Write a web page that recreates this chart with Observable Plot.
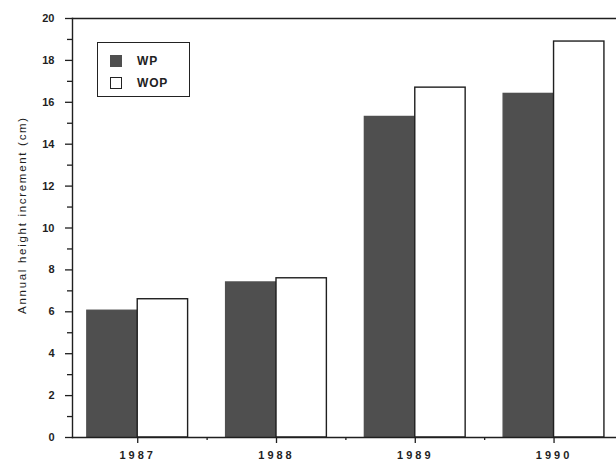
<!DOCTYPE html>
<html>
<head>
<meta charset="utf-8">
<script src="https://cdn.jsdelivr.net/npm/d3@7"></script>
<script src="https://cdn.jsdelivr.net/npm/@observablehq/plot@0.6"></script>
<style>
  body { margin: 0; background: #fff; }
  #chart { position: relative; width: 616px; height: 465px; }
  #chart svg { display: block; }
  #chart svg g[aria-label="y-axis label"] text { letter-spacing: 1.7px; font-weight: normal; font-size: 11.5px; }
  #chart svg g[aria-label="x-axis tick label"] text { letter-spacing: 3px; }
  .legend {
    position: absolute; left: 97px; top: 42px; width: 93px; height: 55px;
    box-sizing: border-box; border: 1.4px solid #222; background: #fff;
    font: bold 12px "Liberation Sans", Arial, sans-serif; color: #222;
    padding: 7px 0 0 12px;
  }
  .legend .row { display: flex; align-items: center; height: 22px; letter-spacing: 0.8px; }
  .legend .sw { width: 12px; height: 12px; box-sizing: border-box; border: 1.3px solid #222; margin-right: 15px; }
</style>
</head>
<body>
<div id="chart"></div>
<script>
// Annual height increment (cm), with and without treatment
const years = [1987, 1988, 1989, 1990];
const series = ["WP", "WOP"];
const wp = [6.05, 7.4, 15.3, 16.4];
const wop = [6.6, 7.6, 16.7, 18.9];
const yTicks = [0, 2, 4, 6, 8, 10, 12, 14, 16, 18, 20];
const yMinor = [1, 3, 5, 7, 9, 11, 13, 15, 17, 19];
const xMinor = [1987.5, 1988.5, 1989.5];
const fills = ["#4f4f4f", "#ffffff"];

const rows = years.flatMap((year, i) => [
  {year, series: series[0], value: wp[i]},
  {year, series: series[1], value: wop[i]}
]);

const half = 0.363;
const ink = "#1f1f1f";

const plot = Plot.plot({
  width: 616,
  height: 465,
  marginLeft: 72,
  marginRight: 0,
  marginTop: 18,
  marginBottom: 28,
  style: {fontFamily: "'Liberation Sans', Arial, sans-serif", fontSize: "11px", fontWeight: "bold", color: ink, background: "#fff"},
  x: {domain: [1986.53, 1990.45]},
  y: {domain: [0, 20]},
  color: {domain: series, range: fills},
  marks: [
    Plot.rectY(rows, {
      x1: d => d.series === series[0] ? d.year - half : d.year,
      x2: d => d.series === series[0] ? d.year : d.year + half,
      y: "value",
      fill: "series",
      stroke: d => d.series === series[0] ? fills[0] : ink,
      strokeWidth: 1.4
    }),
    Plot.frame({anchor: "left", stroke: ink, strokeWidth: 1.4}),
    Plot.frame({anchor: "top", stroke: ink, strokeWidth: 1.4}),
    Plot.frame({anchor: "bottom", stroke: ink, strokeWidth: 1.4}),
    Plot.axisY({ticks: yTicks, tickSize: 7, tickPadding: 11, tickFormat: d => String(d),
      label: "Annual height increment (cm)", labelAnchor: "center", labelArrow: "none", labelOffset: 55,
      stroke: ink, strokeWidth: 1.3}),
    Plot.axisY({ticks: yMinor, tickSize: 5, tickFormat: () => "", label: null, stroke: ink, strokeWidth: 1.3}),
    Plot.axisX({ticks: years, tickSize: 6, tickPadding: 8, tickFormat: d => String(d), label: null, stroke: ink, strokeWidth: 1.3}),
    Plot.axisX({ticks: xMinor, tickSize: 3, tickFormat: () => "", label: null, stroke: ink, strokeWidth: 1.3})
  ]
});

// The axis title sits a little above the plot's vertical centre
const title = plot.querySelector('g[aria-label="y-axis label"]');
if (title) title.setAttribute("transform", (title.getAttribute("transform") || "") + " translate(0,-13)");

const chart = document.getElementById("chart");
chart.appendChild(plot);

// Legend box inside the plot area
const legend = document.createElement("div");
legend.className = "legend";
series.forEach((name, i) => {
  const row = document.createElement("div");
  row.className = "row";
  const sw = document.createElement("span");
  sw.className = "sw";
  sw.style.background = fills[i];
  if (i === 0) sw.style.borderColor = fills[0];
  row.appendChild(sw);
  row.appendChild(document.createTextNode(name));
  legend.appendChild(row);
});
chart.appendChild(legend);
</script>
</body>
</html>
